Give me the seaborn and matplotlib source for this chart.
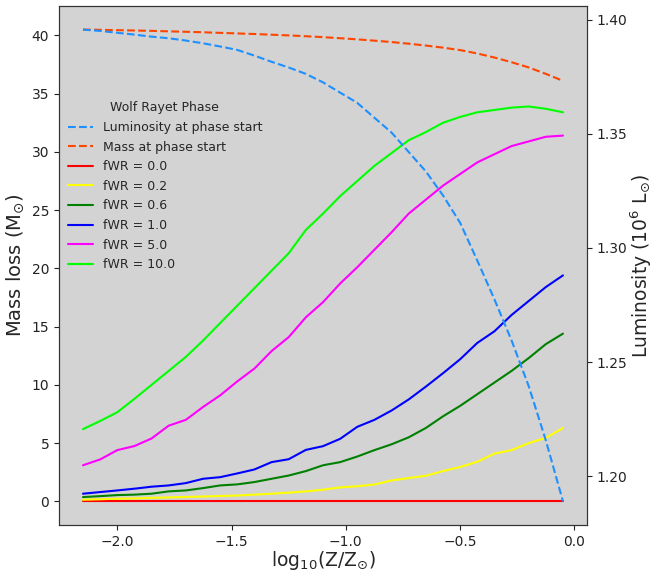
import numpy as np
import pandas as pd
import matplotlib
matplotlib.use("Agg")
import matplotlib.pyplot as plt
import seaborn as sns

# log10(Z/Zsun) grid
log_z = [-2.15, -2.075, -2.0, -1.925, -1.85, -1.775, -1.7, -1.625, -1.55, -1.475,
         -1.4, -1.325, -1.25, -1.175, -1.1, -1.025, -0.95, -0.875, -0.8, -0.725,
         -0.65, -0.575, -0.5, -0.425, -0.35, -0.275, -0.2, -0.125, -0.05]

luminosity_start = [1.3956, 1.3950, 1.3942, 1.3934, 1.3925, 1.3918, 1.3908, 1.3896, 1.3882, 1.3867,
                    1.3842, 1.3815, 1.3790, 1.3762, 1.3725, 1.3680, 1.3635, 1.3570, 1.3505, 1.3420,
                    1.3335, 1.3230, 1.3110, 1.2945, 1.2775, 1.2595, 1.2395, 1.2157, 1.1890]

mass_start = [40.5, 40.48, 40.45, 40.42, 40.39, 40.35, 40.31, 40.27, 40.22, 40.17,
              40.12, 40.06, 40.0, 39.93, 39.85, 39.76, 39.66, 39.55, 39.43, 39.29,
              39.13, 38.95, 38.74, 38.45, 38.1, 37.7, 37.25, 36.7, 36.1]

fwr_0_0 = [0.0] * 29
fwr_0_2 = [0.14, 0.18, 0.23, 0.26, 0.30, 0.34, 0.38, 0.42, 0.46, 0.50,
           0.58, 0.66, 0.75, 0.86, 1.0, 1.2, 1.3, 1.45, 1.8, 2.0,
           2.2, 2.6, 2.95, 3.4, 4.1, 4.4, 5.0, 5.45, 6.3]
fwr_0_6 = [0.37, 0.45, 0.54, 0.58, 0.66, 0.86, 0.94, 1.14, 1.37, 1.46,
           1.66, 1.94, 2.22, 2.6, 3.1, 3.37, 3.85, 4.4, 4.9, 5.5,
           6.3, 7.3, 8.2, 9.2, 10.2, 11.2, 12.3, 13.5, 14.4]
fwr_1_0 = [0.66, 0.8, 0.94, 1.09, 1.26, 1.37, 1.57, 1.94, 2.08, 2.4,
           2.74, 3.37, 3.62, 4.42, 4.74, 5.37, 6.4, 7.0, 7.8, 8.75,
           9.85, 11.0, 12.2, 13.6, 14.6, 16.0, 17.2, 18.4, 19.4]
fwr_5_0 = [3.1, 3.6, 4.4, 4.75, 5.4, 6.5, 7.0, 8.1, 9.1, 10.3,
           11.4, 12.9, 14.1, 15.8, 17.1, 18.7, 20.1, 21.6, 23.1, 24.7,
           25.9, 27.1, 28.1, 29.1, 29.8, 30.5, 30.9, 31.3, 31.4]
fwr_10_0 = [6.2, 6.9, 7.65, 8.8, 10.0, 11.2, 12.4, 13.8, 15.3, 16.8,
            18.3, 19.8, 21.3, 23.3, 24.7, 26.2, 27.5, 28.8, 29.9, 31.0,
            31.7, 32.5, 33.0, 33.4, 33.6, 33.8, 33.9, 33.7, 33.4]

fwr_labels = ["fWR = 0.0", "fWR = 0.2", "fWR = 0.6", "fWR = 1.0", "fWR = 5.0", "fWR = 10.0"]
fwr_series = [fwr_0_0, fwr_0_2, fwr_0_6, fwr_1_0, fwr_5_0, fwr_10_0]
fwr_colors = ["red", "yellow", "green", "blue", "magenta", "lime"]

sns.set_style("ticks", {"axes.facecolor": "lightgray"})
plt.rcParams['font.family'] = ['DejaVu Sans']

fig = plt.figure(figsize=(6.68, 5.71), dpi=100)
ax = fig.add_axes([0.0883, 0.0806, 0.7904, 0.9089])
ax2 = ax.twinx()

sns.lineplot(x=log_z, y=luminosity_start, ax=ax2, color="dodgerblue",
             linestyle="--", label="Luminosity at phase start", legend=False)
sns.lineplot(x=log_z, y=mass_start, ax=ax, color="orangered",
             linestyle="--", label="Mass at phase start", legend=False)
for lab, ser, col in zip(fwr_labels, fwr_series, fwr_colors):
    sns.lineplot(x=log_z, y=ser, ax=ax, color=col, label=lab, legend=False)

ax.set_xticks([-2.0, -1.5, -1.0, -0.5, 0.0])
ax.set_yticks([0, 5, 10, 15, 20, 25, 30, 35, 40])
ax2.set_yticks([1.20, 1.25, 1.30, 1.35, 1.40])
ax.set_xlabel(r"log$_{10}$(Z/Z$_{\odot}$)", fontsize=13.5, labelpad=0)
ax.set_ylabel(r"Mass loss (M$_{\odot}$)", fontsize=14)
ax2.set_ylabel(r"Luminosity (10$^6$ L$_{\odot}$)", fontsize=13.5, labelpad=1)
for a in (ax, ax2):
    for s in a.spines.values():
        s.set_color("#333333")
        s.set_visible(True)
    a.tick_params(colors="#222222", labelsize=10, length=3.5)

h1, l1 = ax2.get_legend_handles_labels()
h2, l2 = ax.get_legend_handles_labels()
ax2.legend(h1 + h2, l1 + l2, title="Wolf Rayet Phase", frameon=False,
           loc="upper left", bbox_to_anchor=(-0.005, 0.838), fontsize=9,
           title_fontsize=9, labelspacing=0.53)

fig.savefig("out.png", dpi=100)
